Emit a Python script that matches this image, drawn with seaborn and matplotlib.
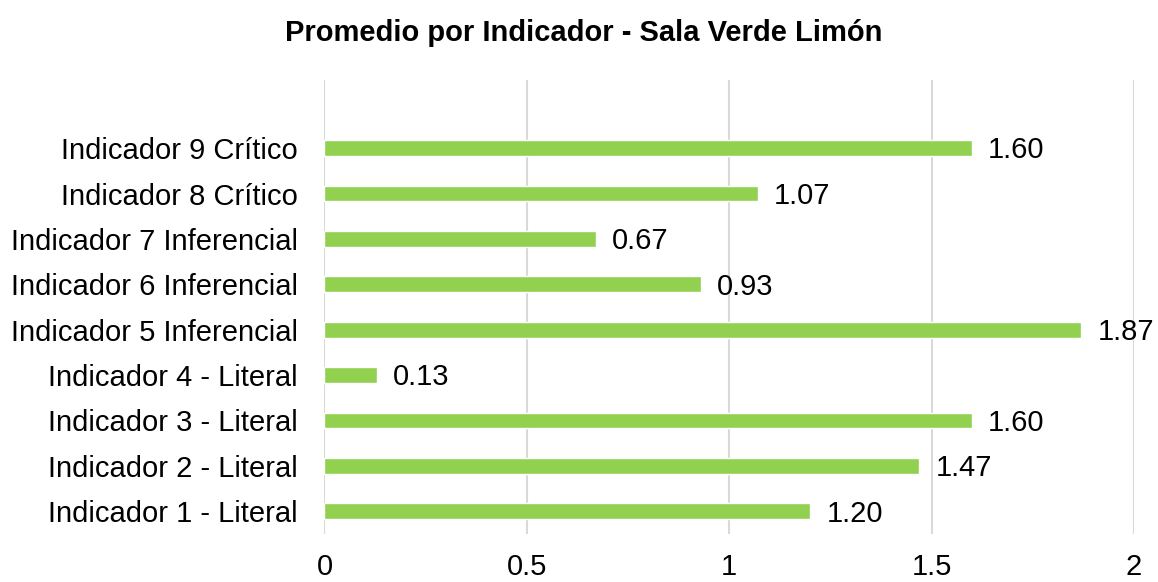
import matplotlib
matplotlib.use("Agg")
import matplotlib.pyplot as plt
import seaborn as sns
import pandas as pd

# data (top to bottom)
indicadores = ["Indicador 9 Crítico", "Indicador 8 Crítico", "Indicador 7 Inferencial",
               "Indicador 6 Inferencial", "Indicador 5 Inferencial", "Indicador 4 - Literal",
               "Indicador 3 - Literal", "Indicador 2 - Literal", "Indicador 1 - Literal"]
promedios = [1.60, 1.07, 0.67, 0.93, 1.87, 0.13, 1.60, 1.47, 1.20]
x_ticks = [0, 0.5, 1, 1.5, 2]
x_tick_labels = ["0", "0.5", "1", "1.5", "2"]

df = pd.DataFrame({"indicador": indicadores, "promedio": promedios})

sns.set_style("white")
plt.rcParams["font.family"] = ["Liberation Sans", "DejaVu Sans"]
plt.rcParams["text.color"] = "black"
plt.rcParams["xtick.color"] = "black"
plt.rcParams["ytick.color"] = "black"

fig = plt.figure(figsize=(11.58, 5.82), dpi=100)
ax = fig.add_axes([0.2802, 0.0825, 0.699, 0.78])

sns.barplot(data=df, x="promedio", y="indicador", order=indicadores,
            color="#92D050", saturation=1, width=0.35, ax=ax, zorder=3)

#value labels next to each bar
for i, v in enumerate(promedios):
    ax.text(v + 0.04, i + 0.05, f"{v:.2f}", va="center", ha="left", fontsize=21, color="black")

ax.set_xlim(0, 2)
ax.set_ylim(8.5, -1.5)
ax.set_xticks(x_ticks)
ax.set_xticklabels(x_tick_labels)
ax.tick_params(axis="x", length=0, pad=14, labelsize=21)
ax.tick_params(axis="y", length=0, pad=19, labelsize=21)
ax.xaxis.grid(True, color="#D9D9D9", linewidth=1.5, zorder=0)
ax.set_axisbelow(True)
for s in ax.spines.values():
    s.set_visible(False)
ax.set_xlabel("")
ax.set_ylabel("")

fig.suptitle("Promedio por Indicador - Sala Verde Limón", x=0.504, y=0.968,
             fontsize=21, fontweight="bold", color="black")

fig.savefig("out.png", dpi=100, facecolor="white")
